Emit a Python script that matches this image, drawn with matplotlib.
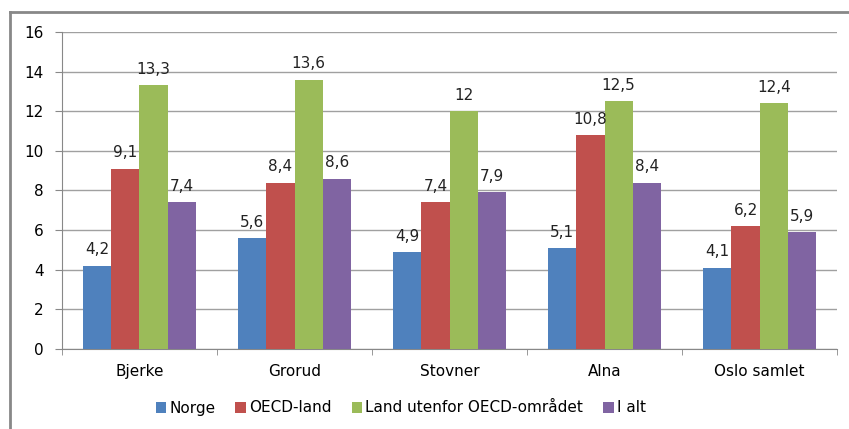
import numpy as np
import matplotlib.pyplot as plt
from matplotlib.lines import Line2D

categories = ["Bjerke", "Grorud", "Stovner", "Alna", "Oslo samlet"]
series = ["Norge", "OECD-land", "Land utenfor OECD-området", "I alt"]
norge = [4.2, 5.6, 4.9, 5.1, 4.1]
oecd = [9.1, 8.4, 7.4, 10.8, 6.2]
utenfor = [13.3, 13.6, 12.0, 12.5, 12.4]
i_alt = [7.4, 8.6, 7.9, 8.4, 5.9]
colors = ["#4F81BD", "#C0504D", "#9BBB59", "#8064A2"]

plt.rcParams['font.family'] = ['DejaVu Sans']

fig = plt.figure(figsize=(8.49, 4.29), dpi=100)
ax = fig.add_axes([0.073, 0.1865, 0.913, 0.739])

# outer chart frame (left and top edges visible)
fig.add_artist(Line2D([10 / 849, 10 / 849], [0, 1 - 12 / 429], transform=fig.transFigure,
                      color="#888888", lw=2))
fig.add_artist(Line2D([10 / 849, 1], [1 - 12 / 429, 1 - 12 / 429], transform=fig.transFigure,
                      color="#888888", lw=2))

x = np.arange(len(categories))
w = 1 / 5.5
for i, (vals, name) in enumerate(zip([norge, oecd, utenfor, i_alt], series)):
    pos = x + (i - 1.5) * w
    ax.bar(pos, vals, width=w, color=colors[i], label=name, zorder=3)
    for xp, v in zip(pos, vals):
        txt = ("%g" % v).replace(".", ",")
        ax.annotate(txt, (xp, v), xytext=(0, 6), textcoords="offset points",
                    ha="center", va="bottom", fontsize=11, color="#222222", zorder=4)

ax.set_xlim(-0.5, len(categories) - 0.5)
ax.set_ylim(0, 16)
ax.set_yticks(range(0, 17, 2))
ax.yaxis.grid(True, color="#A0A0A0", lw=1, zorder=0)
ax.set_xticks(x)
ax.set_xticklabels(categories, fontsize=11)
ax.set_xticks(np.arange(-0.5, len(categories), 1), minor=True)
ax.tick_params(axis="x", which="major", length=0, pad=11)
ax.tick_params(axis="x", which="minor", length=4, color="#888888")
ax.tick_params(axis="y", length=5, color="#888888", labelsize=11, pad=8)
for s in ["top", "right"]:
    ax.spines[s].set_visible(False)
ax.spines["left"].set_color("#888888")
ax.spines["bottom"].set_color("#888888")

fig.legend(loc="center", bbox_to_anchor=(0.472, 1 - 408 / 429), ncol=4, frameon=False,
           fontsize=11, handlelength=0.7, handleheight=0.7, handletextpad=0.2,
           columnspacing=1.3)

fig.savefig("out.png", dpi=100)
